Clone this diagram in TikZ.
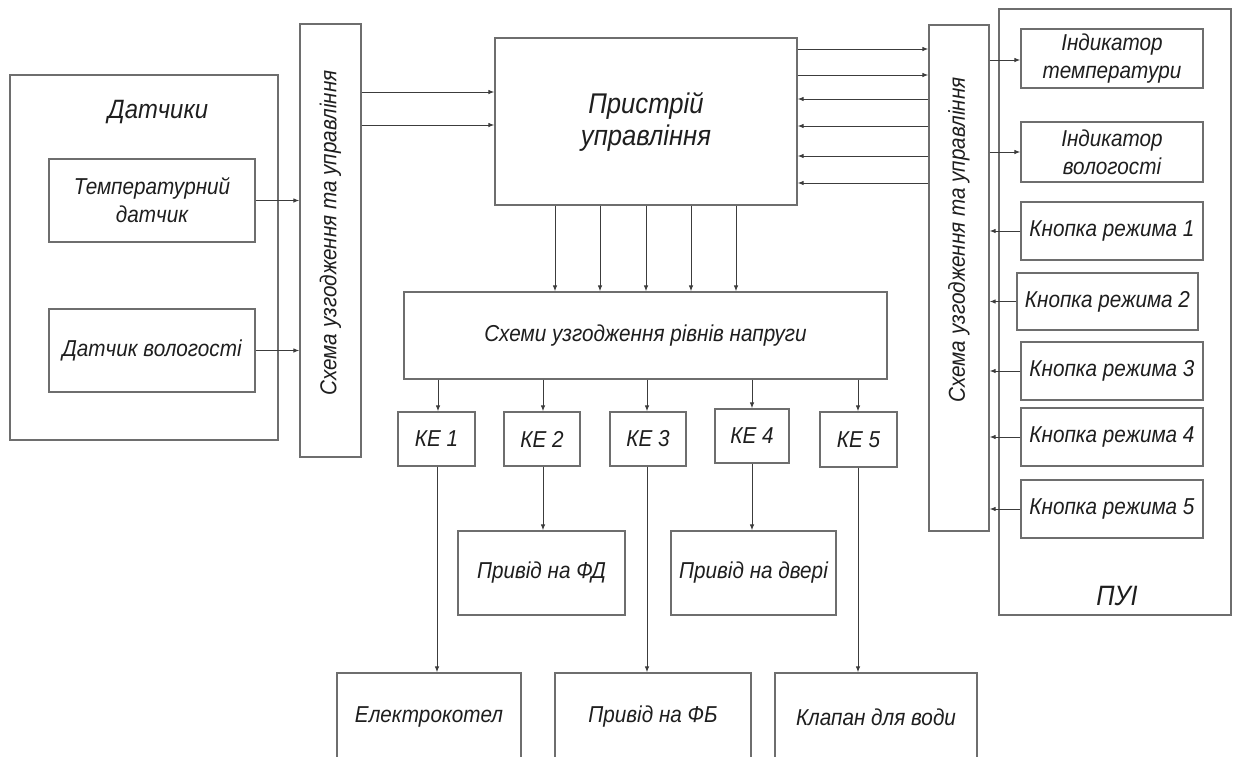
\documentclass[tikz,border=0pt]{standalone}
\usepackage{fontspec}
\setmainfont{Liberation Sans}[FakeStretch=0.9]
\usetikzlibrary{arrows.meta}
\definecolor{boxc}{HTML}{6E6E6E}
\definecolor{linec}{HTML}{3C3C3C}
\definecolor{txtc}{HTML}{1E1E1E}
\begin{document}
\begin{tikzpicture}[x=1pt,y=-1pt,
  box/.style={draw=boxc,line width=1.2pt,rectangle,inner sep=0pt,align=center,
    font=\fontsize{23}{28}\selectfont\itshape,text=txtc},
  lbl/.style={inner sep=0pt,font=\fontsize{23}{28}\selectfont\itshape,text=txtc},
  arr/.style={draw=linec,line width=1pt,-{Latex[length=6pt,width=4.5pt]}}]
\useasboundingbox (0,0) rectangle (1235,756);
\clip (0,0) rectangle (1235,756);
% left group
\node[box,minimum width=268,minimum height=365] (dat) at (144,257.5) {};
\node[lbl,font=\fontsize{26.5}{30}\selectfont\itshape] (datt) at (158,112) {Датчики};
\node[box,minimum width=206,minimum height=83] (temp) at (152,200.5) {Температурний\\датчик};
\node[box,minimum width=206,minimum height=83] (vol) at (152,350.5) {Датчик вологості};
\node[box,minimum width=61,minimum height=433] (lb) at (330.5,240.5) {};
\node[lbl,rotate=90] (lbt) at (330.5,233) {Схема узгодження та управління};
% control unit
\node[box,minimum width=302,minimum height=167,font=\fontsize{28.5}{32}\selectfont\itshape] (pu) at (646,121.5) {Пристрій\\управління};
% right group
\node[box,minimum width=232,minimum height=606] (pui) at (1115,312) {};
\node[lbl,font=\fontsize{28}{32}\selectfont\itshape] (puit) at (1117,596) {ПУІ};
\node[box,minimum width=60,minimum height=506] (rb) at (959,278) {};
\node[lbl,rotate=90] (rbt) at (959,240) {Схема узгодження та управління};
\node[box,minimum width=182,minimum height=59] (it) at (1112,58.5) {Індикатор\\температури};
\node[box,minimum width=182,minimum height=60] (iv) at (1112,152) {Індикатор\\вологості};
\node[box,minimum width=182,minimum height=58] (k1) at (1112,231) {Кнопка режима 1};
\node[box,minimum width=181,minimum height=57] (k2) at (1107.5,301.5) {Кнопка режима 2};
\node[box,minimum width=182,minimum height=58] (k3) at (1112,371) {Кнопка режима 3};
\node[box,minimum width=182,minimum height=58] (k4) at (1112,437) {Кнопка режима 4};
\node[box,minimum width=182,minimum height=58] (k5) at (1112,509) {Кнопка режима 5};
% level matching
\node[box,minimum width=483,minimum height=87] (sch) at (645.5,335.5) {Схеми узгодження рівнів напруги};
\node[box,minimum width=77,minimum height=54] (ke1) at (436.5,439) {КЕ 1};
\node[box,minimum width=76,minimum height=54] (ke2) at (542,439) {КЕ 2};
\node[box,minimum width=76,minimum height=54] (ke3) at (648,439) {КЕ 3};
\node[box,minimum width=74,minimum height=54] (ke4) at (752,436) {КЕ 4};
\node[box,minimum width=77,minimum height=55] (ke5) at (858.5,439.5) {КЕ 5};
\node[box,minimum width=167,minimum height=84] (fd) at (541.5,573) {Привід на ФД};
\node[box,minimum width=165,minimum height=84] (dv) at (753.5,573) {Привід на двері};
\node[box,minimum width=184,minimum height=88] (el) at (429,717) {Електрокотел};
\node[box,minimum width=196,minimum height=88] (fb) at (653,717) {Привід на ФБ};
\node[box,minimum width=202,minimum height=88] (kl) at (876,717) {Клапан для води};
% connectors left
\draw[arr] (temp.east) -- (temp.east -| lb.west);
\draw[arr] (vol.east) -- (vol.east -| lb.west);
\draw[arr] (lb.east |- 0,92) -- (pu.west |- 0,92);
\draw[arr] (lb.east |- 0,125) -- (pu.west |- 0,125);
% pu to sch
\foreach \xx in {555,600,646,691,736}
  \draw[arr] (pu.south -| \xx,0) -- (sch.north -| \xx,0);
% sch to KE
\foreach \k/\xx in {ke1/438,ke2/543,ke3/647,ke4/752,ke5/858}
  \draw[arr] (sch.south -| \xx,0) -- (\k.north -| \xx,0);
% KE to actuators
\draw[arr] (ke1.south -| 437,0) -- (el.north -| 437,0);
\draw[arr] (ke2.south -| 543,0) -- (fd.north -| 543,0);
\draw[arr] (ke3.south -| 647,0) -- (fb.north -| 647,0);
\draw[arr] (ke4.south -| 752,0) -- (dv.north -| 752,0);
\draw[arr] (ke5.south -| 858,0) -- (kl.north -| 858,0);
% pu and right block
\draw[arr] (pu.east |- 0,49) -- (rb.west |- 0,49);
\draw[arr] (pu.east |- 0,75) -- (rb.west |- 0,75);
\foreach \yy in {99,126,156,183}
  \draw[arr] (rb.west |- 0,\yy) -- (pu.east |- 0,\yy);
\draw[arr] (rb.east |- 0,60) -- (it.west |- 0,60);
\draw[arr] (rb.east |- iv.west) -- (iv.west);
\foreach \k in {k1,k2,k3,k4,k5}
  \draw[arr] (\k.west) -- (\k.west -| rb.east);
\end{tikzpicture}
\end{document}
